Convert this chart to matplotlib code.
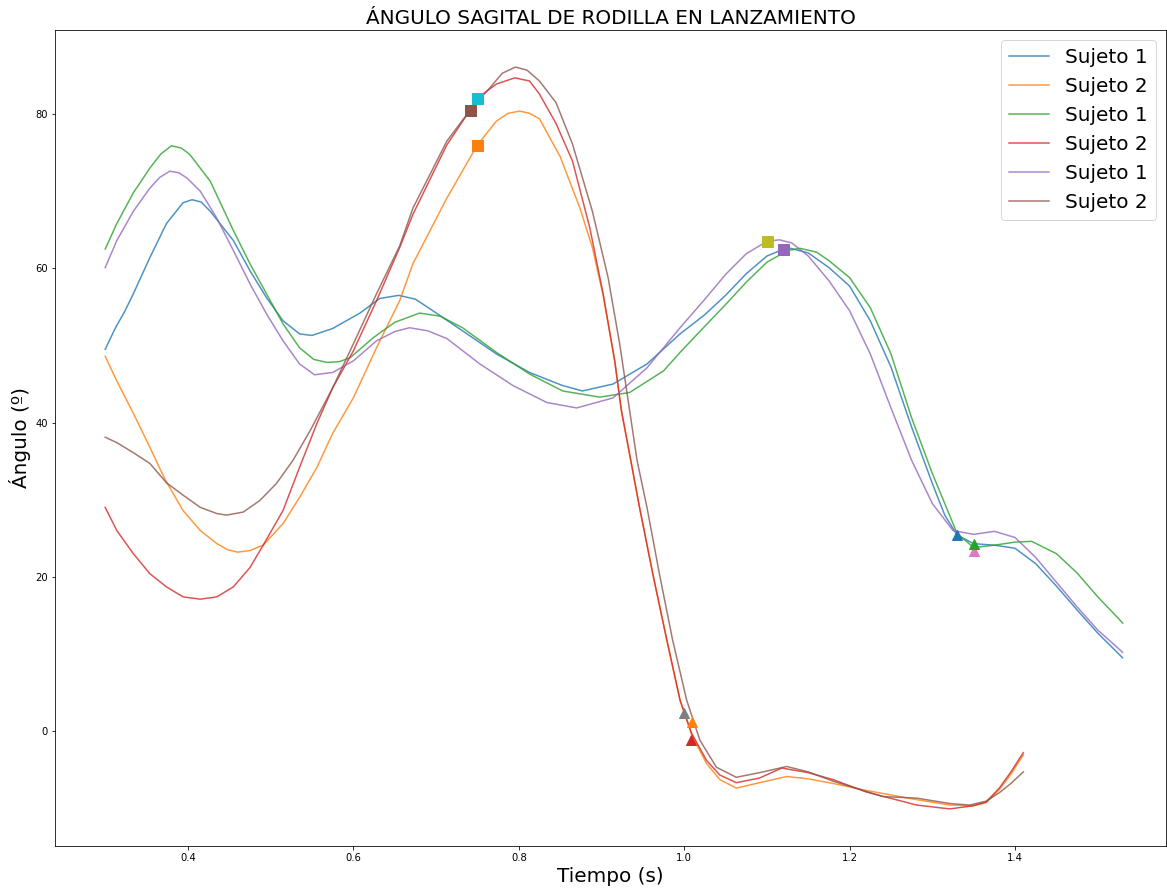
import matplotlib
matplotlib.use('Agg')
import matplotlib.pyplot as plt

# angle curves (x = tiempo s, y = angulo deg)
tBlue = [0.300, 0.312, 0.324, 0.334, 0.354, 0.374, 0.394, 0.405, 0.416, 0.427, 0.455, 0.475, 0.495, 0.515,
         0.535, 0.550, 0.575, 0.608, 0.632, 0.655, 0.675, 0.692, 0.732, 0.773, 0.813, 0.853, 0.877, 0.914,
         0.955, 0.995, 1.025, 1.050, 1.075, 1.100, 1.125, 1.150, 1.175, 1.200, 1.225, 1.250, 1.275, 1.300,
         1.315, 1.330, 1.350, 1.375, 1.400, 1.425, 1.450, 1.475, 1.500, 1.530]
aBlue = [49.5, 52.2, 54.5, 56.7, 61.4, 65.8, 68.5, 68.9, 68.6, 67.4, 63.6, 59.7, 56.2, 53.2,
         51.5, 51.3, 52.2, 54.2, 56.1, 56.5, 56.0, 54.8, 51.9, 48.9, 46.5, 44.8, 44.1, 45.0,
         47.6, 51.5, 54.0, 56.5, 59.3, 61.6, 62.7, 62.0, 60.1, 57.7, 53.2, 47.2, 39.4, 32.1,
         28.0, 25.4, 24.3, 24.1, 23.7, 21.7, 18.8, 15.7, 12.7, 9.5]

tGreen = [0.300, 0.314, 0.334, 0.354, 0.367, 0.380, 0.392, 0.402, 0.427, 0.455, 0.475, 0.495, 0.515, 0.535,
          0.552, 0.568, 0.583, 0.596, 0.624, 0.650, 0.680, 0.705, 0.732, 0.773, 0.813, 0.853, 0.898, 0.934,
          0.975, 0.995, 1.025, 1.050, 1.075, 1.100, 1.125, 1.140, 1.160, 1.175, 1.200, 1.225, 1.250, 1.275,
          1.300, 1.330, 1.350, 1.375, 1.400, 1.420, 1.450, 1.475, 1.500, 1.525, 1.530]
aGreen = [62.5, 65.8, 69.8, 73.0, 74.8, 75.9, 75.6, 74.8, 71.3, 64.9, 60.6, 56.7, 52.8, 49.7,
          48.2, 47.8, 47.9, 48.4, 51.0, 53.0, 54.2, 53.8, 52.3, 49.1, 46.3, 44.1, 43.3, 43.9,
          46.7, 49.1, 52.5, 55.3, 58.2, 60.8, 62.3, 62.6, 62.1, 61.0, 58.8, 54.9, 48.9, 40.6,
          33.4, 25.6, 23.8, 24.1, 24.5, 24.6, 23.0, 20.5, 17.4, 14.6, 14.0]

tPurple = [0.300, 0.314, 0.334, 0.354, 0.366, 0.378, 0.389, 0.399, 0.415, 0.435, 0.455, 0.475, 0.495, 0.515,
           0.535, 0.553, 0.575, 0.600, 0.628, 0.650, 0.668, 0.690, 0.713, 0.753, 0.793, 0.834, 0.870, 0.914,
           0.955, 0.995, 1.025, 1.050, 1.075, 1.100, 1.115, 1.130, 1.150, 1.175, 1.200, 1.225, 1.250, 1.275,
           1.300, 1.325, 1.350, 1.375, 1.400, 1.425, 1.450, 1.475, 1.500, 1.525, 1.530]
aPurple = [60.1, 63.6, 67.4, 70.4, 71.8, 72.6, 72.4, 71.7, 70.0, 66.5, 62.3, 58.0, 54.1, 50.6,
           47.6, 46.2, 46.5, 48.0, 50.6, 51.8, 52.3, 51.9, 50.9, 47.6, 44.8, 42.6, 41.9, 43.2,
           47.1, 52.3, 56.0, 59.2, 61.9, 63.5, 63.7, 63.3, 61.6, 58.4, 54.5, 48.9, 41.9, 35.1,
           29.5, 26.0, 25.5, 25.9, 25.1, 22.5, 19.3, 16.1, 13.1, 10.7, 10.2]

tOrange = [0.300, 0.314, 0.334, 0.354, 0.372, 0.394, 0.415, 0.435, 0.448, 0.460, 0.475, 0.491, 0.515, 0.535,
           0.556, 0.575, 0.600, 0.628, 0.656, 0.672, 0.713, 0.750, 0.773, 0.787, 0.801, 0.813, 0.825, 0.850,
           0.874, 0.889, 0.902, 0.916, 0.924, 0.932, 0.946, 0.962, 0.979, 0.995, 1.009, 1.027, 1.043, 1.063,
           1.091, 1.124, 1.150, 1.180, 1.220, 1.281, 1.321, 1.349, 1.365, 1.381, 1.395, 1.410]
aOrange = [48.6, 45.4, 41.2, 36.8, 32.7, 28.6, 26.0, 24.3, 23.5, 23.2, 23.4, 24.1, 26.9, 30.3,
           34.2, 38.6, 43.2, 49.7, 55.8, 60.6, 69.1, 76.0, 79.1, 80.1, 80.4, 80.1, 79.4, 74.5,
           67.8, 62.7, 56.5, 48.0, 41.6, 37.0, 29.0, 20.4, 11.8, 4.0, -0.5, -4.2, -6.3, -7.4,
           -6.7, -5.9, -6.2, -6.8, -7.7, -8.9, -9.6, -9.7, -9.3, -7.6, -5.6, -3.1]

tRed = [0.300, 0.314, 0.334, 0.354, 0.374, 0.394, 0.415, 0.435, 0.455, 0.475, 0.491, 0.515, 0.535, 0.556,
        0.575, 0.600, 0.628, 0.656, 0.672, 0.713, 0.741, 0.750, 0.773, 0.795, 0.813, 0.825, 0.845, 0.865,
        0.886, 0.902, 0.916, 0.924, 0.933, 0.946, 0.962, 0.979, 0.995, 1.009, 1.027, 1.043, 1.063, 1.091,
        1.118, 1.150, 1.180, 1.220, 1.281, 1.321, 1.349, 1.365, 1.381, 1.395, 1.410]
aRed = [29.0, 26.0, 23.0, 20.4, 18.7, 17.4, 17.1, 17.4, 18.7, 21.2, 24.1, 28.6, 34.2, 39.9,
        44.5, 49.3, 55.8, 62.7, 67.0, 76.0, 80.5, 82.1, 83.9, 84.7, 84.3, 82.6, 78.8, 73.9,
        65.2, 56.7, 48.0, 41.6, 36.5, 29.0, 20.4, 11.8, 4.0, -0.3, -3.8, -5.7, -6.7, -6.1,
        -4.8, -5.4, -6.3, -7.9, -9.6, -10.1, -9.7, -9.2, -7.4, -5.3, -2.8]

tBrown = [0.300, 0.314, 0.334, 0.354, 0.374, 0.394, 0.415, 0.435, 0.447, 0.467, 0.487, 0.507, 0.527, 0.548,
          0.575, 0.600, 0.628, 0.656, 0.672, 0.713, 0.741, 0.765, 0.780, 0.796, 0.810, 0.825, 0.845, 0.865,
          0.889, 0.908, 0.922, 0.934, 0.943, 0.955, 0.970, 0.986, 1.003, 1.019, 1.039, 1.063, 1.091, 1.124,
          1.150, 1.180, 1.240, 1.281, 1.321, 1.345, 1.365, 1.381, 1.395, 1.410]
aBrown = [38.1, 37.4, 36.1, 34.7, 32.2, 30.6, 29.0, 28.2, 28.0, 28.4, 29.9, 32.1, 35.1, 39.0,
          44.5, 50.2, 56.7, 62.9, 67.8, 76.5, 80.5, 83.4, 85.3, 86.1, 85.7, 84.3, 81.5, 76.1,
          67.4, 58.8, 50.2, 41.6, 35.1, 29.0, 20.4, 11.8, 4.0, -1.2, -4.7, -6.0, -5.4, -4.6,
          -5.3, -6.5, -8.5, -8.7, -9.4, -9.6, -9.1, -8.0, -6.8, -5.3]

series = [(tBlue, aBlue), (tOrange, aOrange), (tGreen, aGreen),
          (tRed, aRed), (tPurple, aPurple), (tBrown, aBrown)]
labels = ['Sujeto 1', 'Sujeto 2', 'Sujeto 1', 'Sujeto 2', 'Sujeto 1', 'Sujeto 2']

# max / min markers (x, y, marker, colour)
markT = [1.35, 1.00, 1.10, 0.75, 1.33, 1.01, 1.35, 1.008, 1.12, 0.741, 0.75]
markA = [23.4, 2.4, 63.6, 82.1, 25.4, 1.2, 24.3, -1.2, 62.5, 80.5, 76.0]
markS = ['^', '^', 's', 's', '^', '^', '^', '^', 's', 's', 's']
markC = ['C6', 'C7', 'C8', 'C9', 'C0', 'C1', 'C2', 'C3', 'C4', 'C5', 'C1']

fig = plt.figure(figsize=(1167/72., 888/72.), dpi=72)
ax = fig.add_axes([55/1167., 42/888., 1111/1167., 816/888.])
for (t, a), lab in zip(series, labels):
    ax.plot(t, a, lw=1.5, alpha=0.8, label=lab)
for t, a, m, c in zip(markT, markA, markS, markC):
    ax.plot(t, a, m, color=c, ms=11 if m == 's' else 10)

ax.set_title('ÁNGULO SAGITAL DE RODILLA EN LANZAMIENTO', fontsize=20)
ax.set_xlabel('Tiempo (s)', fontsize=20)
ax.set_ylabel('Ángulo (º)', fontsize=20)
ax.set_xticks([0.4, 0.6, 0.8, 1.0, 1.2, 1.4])
ax.set_yticks([0, 20, 40, 60, 80])
ax.set_xlim(0.2393, 1.5825)
ax.legend(loc='upper right', fontsize=20)

fig.savefig('out.png', dpi=72)
